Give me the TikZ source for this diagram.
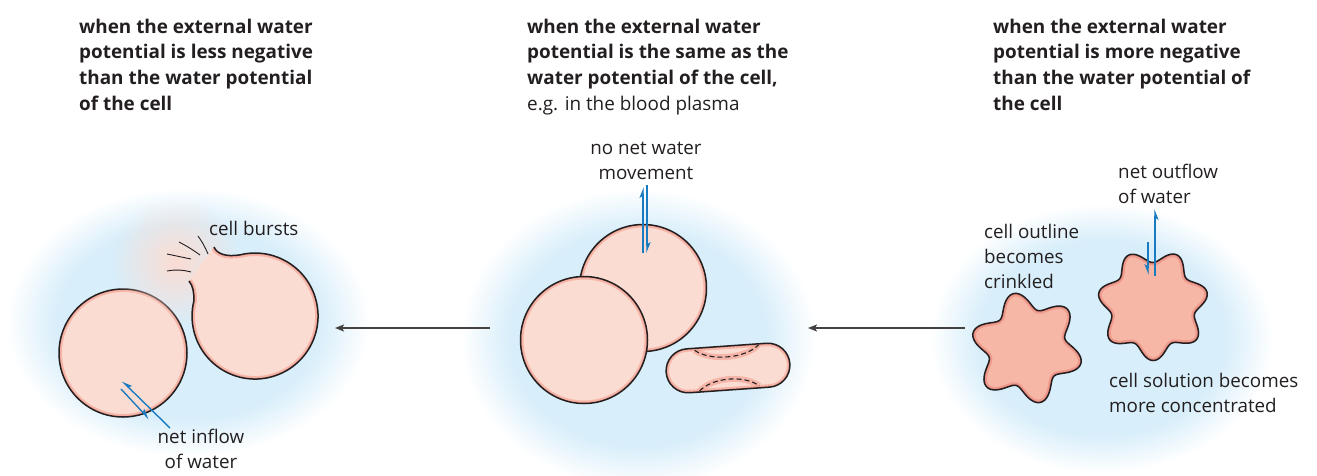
\documentclass[tikz,border=0pt]{standalone}
\usepackage{fontspec}
\setmainfont{Open Sans}
\usetikzlibrary{arrows.meta,fadings}

\definecolor{water}{HTML}{D8EEFA}
\definecolor{cellpink}{HTML}{FBDCD2}
\definecolor{cellrim}{HTML}{F19E8E}
\definecolor{shrunk}{HTML}{F6B7A7}
\definecolor{shrunkrim}{HTML}{E9877A}
\definecolor{flow}{HTML}{1A7CC0}
\definecolor{ink}{HTML}{231F20}

% soft-edged pool of solution around each group of cells
\pgfdeclareradialshading{pool}{\pgfpoint{0bp}{0bp}}{%
  color(0bp)=(water); color(18bp)=(water); color(25bp)=(white); color(50bp)=(white)}
\tikzfading[name=haze, inner color=transparent!0, outer color=transparent!100]

\tikzset{
  heading/.style={anchor=north west, inner sep=0pt, align=left,
    font=\fontsize{18.9}{25.7}\selectfont\bfseries, text=ink},
  label/.style={inner sep=0pt, font=\fontsize{18.8}{25}\selectfont, text=ink},
  wall/.style={draw=ink, line width=1.5pt},
  rim/.style={draw=cellrim, line width=6pt},
  flowline/.style={draw=flow, line width=1.4pt},
  inarrow/.style={flowline, -{Stealth[harpoon, length=9pt, width=7pt, inset=2pt]}},
  inarrowr/.style={flowline, -{Stealth[harpoon, swap, length=9pt, width=7pt, inset=2pt]}},
  stagearrow/.style={draw=ink!85, line width=1.5pt, -{Stealth[length=9pt, width=7pt, inset=2pt]}},
}

\newcommand{\burstoutline}{(214,247) .. controls (217,254) and (226,257) .. (239.8,254.9)
  arc[start angle=-104, end angle=194, radius=63]
  .. controls (194,292) and (193,286) .. (189,281)}

\begin{document}
\begin{tikzpicture}[x=1pt, y=-1pt]
\useasboundingbox (0,0) rectangle (1317,475);

% ---- pools of solution ----
\shade[shading=pool] (188,322) ellipse (182 and 135);
\shade[shading=pool] (638,338) ellipse (178 and 150);
\shade[shading=pool] (1102,338) ellipse (172 and 135);

% ---- stage arrows ----
\coordinate (midL) at (490,328);
\coordinate (leftR) at (335,328);
\coordinate (rightL) at (965,328);
\coordinate (midR) at (808,328);
\draw[stagearrow] (midL) -- (leftR);
\draw[stagearrow] (rightL) -- (midR);

% ---- hypotonic: swollen cell ----
\coordinate (swollen) at (123,353);
\fill[cellpink] (swollen) circle (64);
\begin{scope}
  \clip (swollen) circle (64);
  \draw[rim, opacity=0.6] (swollen) circle (64);
  \draw[draw=cellrim, line width=2.5pt] (swollen) circle (64);
\end{scope}
\draw[wall] (swollen) circle (64);

% ---- hypotonic: bursting cell ----
\fill[cellpink, path fading=haze] (176,262) circle (64);
\fill[cellpink] \burstoutline -- cycle;
\begin{scope}
  \clip \burstoutline -- cycle;
  \draw[rim, opacity=0.6] \burstoutline;
  \draw[draw=cellrim, line width=2.5pt] \burstoutline;
\end{scope}
\draw[wall] \burstoutline;
\draw[ink, line width=0.9pt] (198,236) to[bend left=6] (208,254);
\draw[ink, line width=0.9pt] (179,242) to[bend left=4] (200,255);
\draw[ink, line width=0.9pt] (167,254) -- (191,259);
\draw[ink, line width=0.9pt] (167,271) to[bend left=12] (191,272);

% inflow arrows
\coordinate (inA1) at (170,428); \coordinate (inA2) at (122,381);
\coordinate (inB1) at (121,389); \coordinate (inB2) at (149,419);
\draw[inarrowr] (inA1) -- (inA2);
\draw[inarrow] (inB1) -- (inB2);

% ---- isotonic: normal cells ----
\coordinate (rbcTop) at (643,288);
\coordinate (rbcFront) at (584,340);
\foreach \c in {rbcTop, rbcFront}{
  \fill[cellpink] (\c) circle (63.5);
  \begin{scope}
    \clip (\c) circle (63.5);
    \draw[rim, opacity=0.6] (\c) circle (63.5);
    \draw[draw=cellrim, line width=2.5pt] (\c) circle (63.5);
  \end{scope}
  \draw[wall] (\c) circle (63.5);
}

% side view of a biconcave disc
\begin{scope}[shift={(728,368)}, rotate=4]
  \fill[cellpink, rounded corners=22pt] (-62,-22) rectangle (62,22);
  \begin{scope}
    \clip[rounded corners=22pt] (-62,-22) rectangle (62,22);
    \draw[rim, opacity=0.6, rounded corners=22pt] (-62,-22) rectangle (62,22);
    \draw[draw=cellrim, line width=2.5pt, rounded corners=22pt] (-62,-22) rectangle (62,22);
    \draw[draw=cellrim, line width=6pt, opacity=0.6] (-32,-20) .. controls (-18,-8) and (18,-8) .. (32,-21);
    \draw[draw=cellrim, line width=6pt, opacity=0.6] (-30,21) .. controls (-16,8) and (16,8) .. (30,20);
  \end{scope}
  \draw[wall, rounded corners=22pt] (-62,-22) rectangle (62,22);
  \draw[ink, line width=1.1pt, dash pattern=on 5pt off 3pt] (-32,-20) .. controls (-18,-8) and (18,-8) .. (32,-21);
  \draw[ink, line width=1.1pt, dash pattern=on 5pt off 3pt] (-30,21) .. controls (-16,8) and (16,8) .. (30,20);
\end{scope}

% exchange arrows
\coordinate (eqA1) at (643,253); \coordinate (eqA2) at (643,187);
\coordinate (eqB1) at (647,185); \coordinate (eqB2) at (647,253);
\draw[inarrow] (eqA1) -- (eqA2);
\draw[inarrow] (eqB1) -- (eqB2);

% ---- hypertonic: crenated cells ----
\newcommand{\crenated}[5]{% centre x, centre y, mean radius, amplitude, lobes/phase
  plot[domain=0:360, samples=241] ({#1+(#3+#4*cos(#5))*cos(\x)}, {#2-(#3+#4*cos(#5))*sin(\x)}) -- cycle}
\foreach \cx/\cy/\R/\A/\n/\t in {1027/348/47.5/8.5/6/104, 1153/305/49/6.5/7/116}{
  \fill[shrunk] \crenated{\cx}{\cy}{\R}{\A}{\n*(\x-\t)};
  \begin{scope}
    \clip \crenated{\cx}{\cy}{\R}{\A}{\n*(\x-\t)};
    \draw[draw=shrunkrim, line width=6pt, opacity=0.6] \crenated{\cx}{\cy}{\R}{\A}{\n*(\x-\t)};
    \draw[draw=shrunkrim, line width=2.5pt] \crenated{\cx}{\cy}{\R}{\A}{\n*(\x-\t)};
  \end{scope}
  \draw[wall] \crenated{\cx}{\cy}{\R}{\A}{\n*(\x-\t)};
}

% outflow arrows
\coordinate (outA1) at (1155,276); \coordinate (outA2) at (1155,209);
\coordinate (outB1) at (1148,242); \coordinate (outB2) at (1148,275);
\draw[inarrowr] (outA1) -- (outA2);
\draw[inarrowr] (outB1) -- (outB2);

% ---- headings ----
\node[heading] (h1) at (79,15) {\strut when the external water\\potential is less negative\\than the water potential\\of the cell};
\node[heading] (h2) at (527,15) {\strut when the external water\\potential is the same as the\\water potential of the cell,\\{\mdseries e.g. in the blood plasma}};
\node[heading] (h3) at (993,15) {\strut when the external water\\potential is more negative\\than the water potential of\\the cell};

% ---- labels ----
\node[label, anchor=north west] (lburst) at (209,218) {\strut cell bursts};
\node[label, anchor=north, align=center] (lin) at (201,426) {\strut net inflow\\of water};
\node[label, anchor=north, align=center] (lnone) at (646,137) {\strut no net water\\movement};
\node[label, anchor=north west, align=left] (lout) at (1118,161) {\strut net outflow\\of water};
\node[label, anchor=north west, align=left] (lcrink) at (984,221) {\strut cell outline\\becomes\\crinkled};
\node[label, anchor=north west, align=left] (lconc) at (1109,370) {\strut cell solution becomes\\more concentrated};
\end{tikzpicture}
\end{document}
